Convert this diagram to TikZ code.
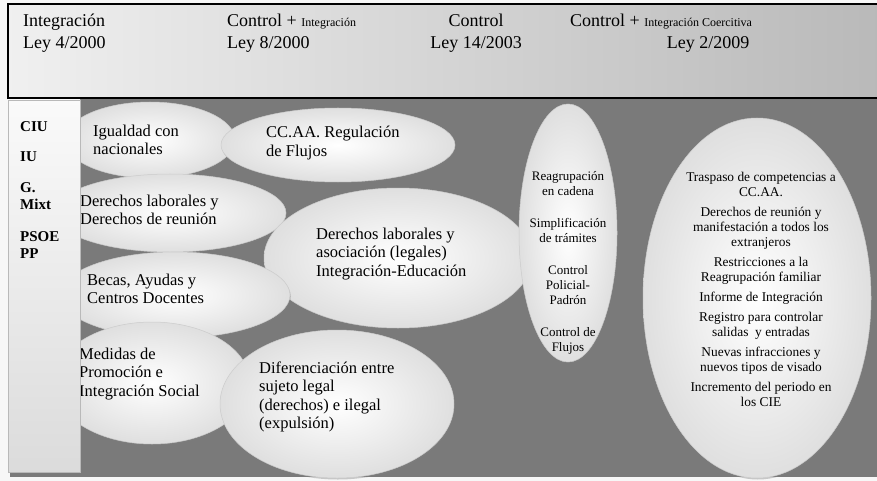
\documentclass[tikz,border=0pt]{standalone}
\usepackage{fontspec}
\setmainfont{Liberation Serif}
\usetikzlibrary{shapes.geometric,shadows}
\definecolor{panel}{RGB}{122,122,122}
\newcommand{\chico}{\fontsize{12}{14}\selectfont}
\tikzset{
  burbuja/.style={ellipse, inner sep=0pt, draw=gray!40, line width=0.5pt,
    shading=radial, inner color=white, outer color=gray!25,
    drop shadow={shadow xshift=0.8pt, shadow yshift=-1.5pt, opacity=0.4}},
  texto/.style={font=\fontsize{16.5}{18.5}\selectfont, align=left, inner sep=0pt, anchor=west},
  cabecera/.style={font=\fontsize{18}{22}\selectfont, align=left, inner sep=0pt, anchor=west},
  partido/.style={font=\bfseries\fontsize{15}{17}\selectfont, align=left, inner sep=0pt, anchor=west},
  lista/.style={font=\fontsize{13}{15}\selectfont, align=center, inner sep=0pt}
}
\begin{document}
\begin{tikzpicture}[x=1pt, y=-1pt]
    \useasboundingbox (0,0) rectangle (877,481);
    \fill[gray!6] (0,0) rectangle (877,481);
    \fill[panel] (10,97) rectangle (880,477);
    \draw[line width=2pt, shading=axis, left color=gray!12, right color=gray!55] (8,4) rectangle (884,98);

    \node[cabecera] (ley4) at (23,33) {Integración\\Ley 4/2000};
    \node[cabecera] (ley8) at (227,33) {Control + {\chico Integración}\\Ley 8/2000};
    \node[cabecera, align=center, anchor=center] (ley14) at (476,33) {Control\\Ley 14/2003};
    \node[cabecera] (ley2a) at (570,22) {Control + {\chico Integración Coercitiva}};
    \node[cabecera, anchor=center] (ley2b) at (708,44) {Ley 2/2009};

    \node[burbuja, minimum width=170, minimum height=76] (igualdad) at (150,140) {};
    \node[texto] (t-igualdad) at (93,140) {Igualdad con\\nacionales};
    \node[burbuja, minimum width=234, minimum height=74] (ccaa) at (338,145) {};
    \node[texto] (t-ccaa) at (266,143) {CC.AA. Regulación\\de Flujos};
    \node[burbuja, minimum width=232, minimum height=78] (reunion) at (170,213) {};
    \node[texto] (t-reunion) at (80,210) {Derechos laborales y\\Derechos de reunión};
    \node[burbuja, minimum width=268, minimum height=140] (asociacion) at (398,258) {};
    \node[texto] (t-asociacion) at (316,254) {Derechos laborales y\\asociación (legales)\\Integración-Educación};
    \node[burbuja, minimum width=230, minimum height=86] (becas) at (175,295) {};
    \node[texto] (t-becas) at (87,289) {Becas, Ayudas y\\Centros Docentes};
    \node[burbuja, minimum width=196, minimum height=122] (medidas) at (152,383) {};
    \node[texto] (t-medidas) at (79,374) {Medidas de\\Promoción e\\Integración Social};
    \node[burbuja, minimum width=234, minimum height=148] (diferencia) at (337,404) {};
    \node[texto] (t-diferencia) at (259,397) {Diferenciación entre\\sujeto legal\\(derechos) e ilegal\\(expulsión)};

    \node[burbuja, minimum width=98, minimum height=258] (reagrupa) at (568,233) {};
    \node[lista] (t-reagrupa) at (568,263) {Reagrupación\\en cadena\\[17pt]Simplificación\\de trámites\\[17pt]Control\\Policial-\\Padrón\\[17pt]Control de\\Flujos};
    \node[burbuja, minimum width=228, minimum height=360] (traspaso) at (757,298) {};
    \node[lista, font=\fontsize{13.4}{15}\selectfont] (t-traspaso) at (761,289) {Traspaso de competencias a\\CC.AA.\\[5pt]Derechos de reunión y\\manifestación a todos los\\extranjeros\\[5pt]Restricciones a la\\Reagrupación familiar\\[5pt]Informe de Integración\\[5pt]Registro para controlar\\salidas \ y entradas\\[5pt]Nuevas infracciones y\\nuevos tipos de visado\\[5pt]Incremento del periodo en\\los CIE};

    \draw[gray!55, line width=0.8pt, shading=axis, top color=gray!4, bottom color=gray!28] (8,100) rectangle (80,472);
    \node[partido] (ciu) at (20,127) {CIU};
    \node[partido] (iu) at (20,157) {IU};
    \node[partido] (mixto) at (20,196) {G.\\Mixt};
    \node[partido] (psoe) at (20,245) {PSOE\\PP};
\end{tikzpicture}
\end{document}
